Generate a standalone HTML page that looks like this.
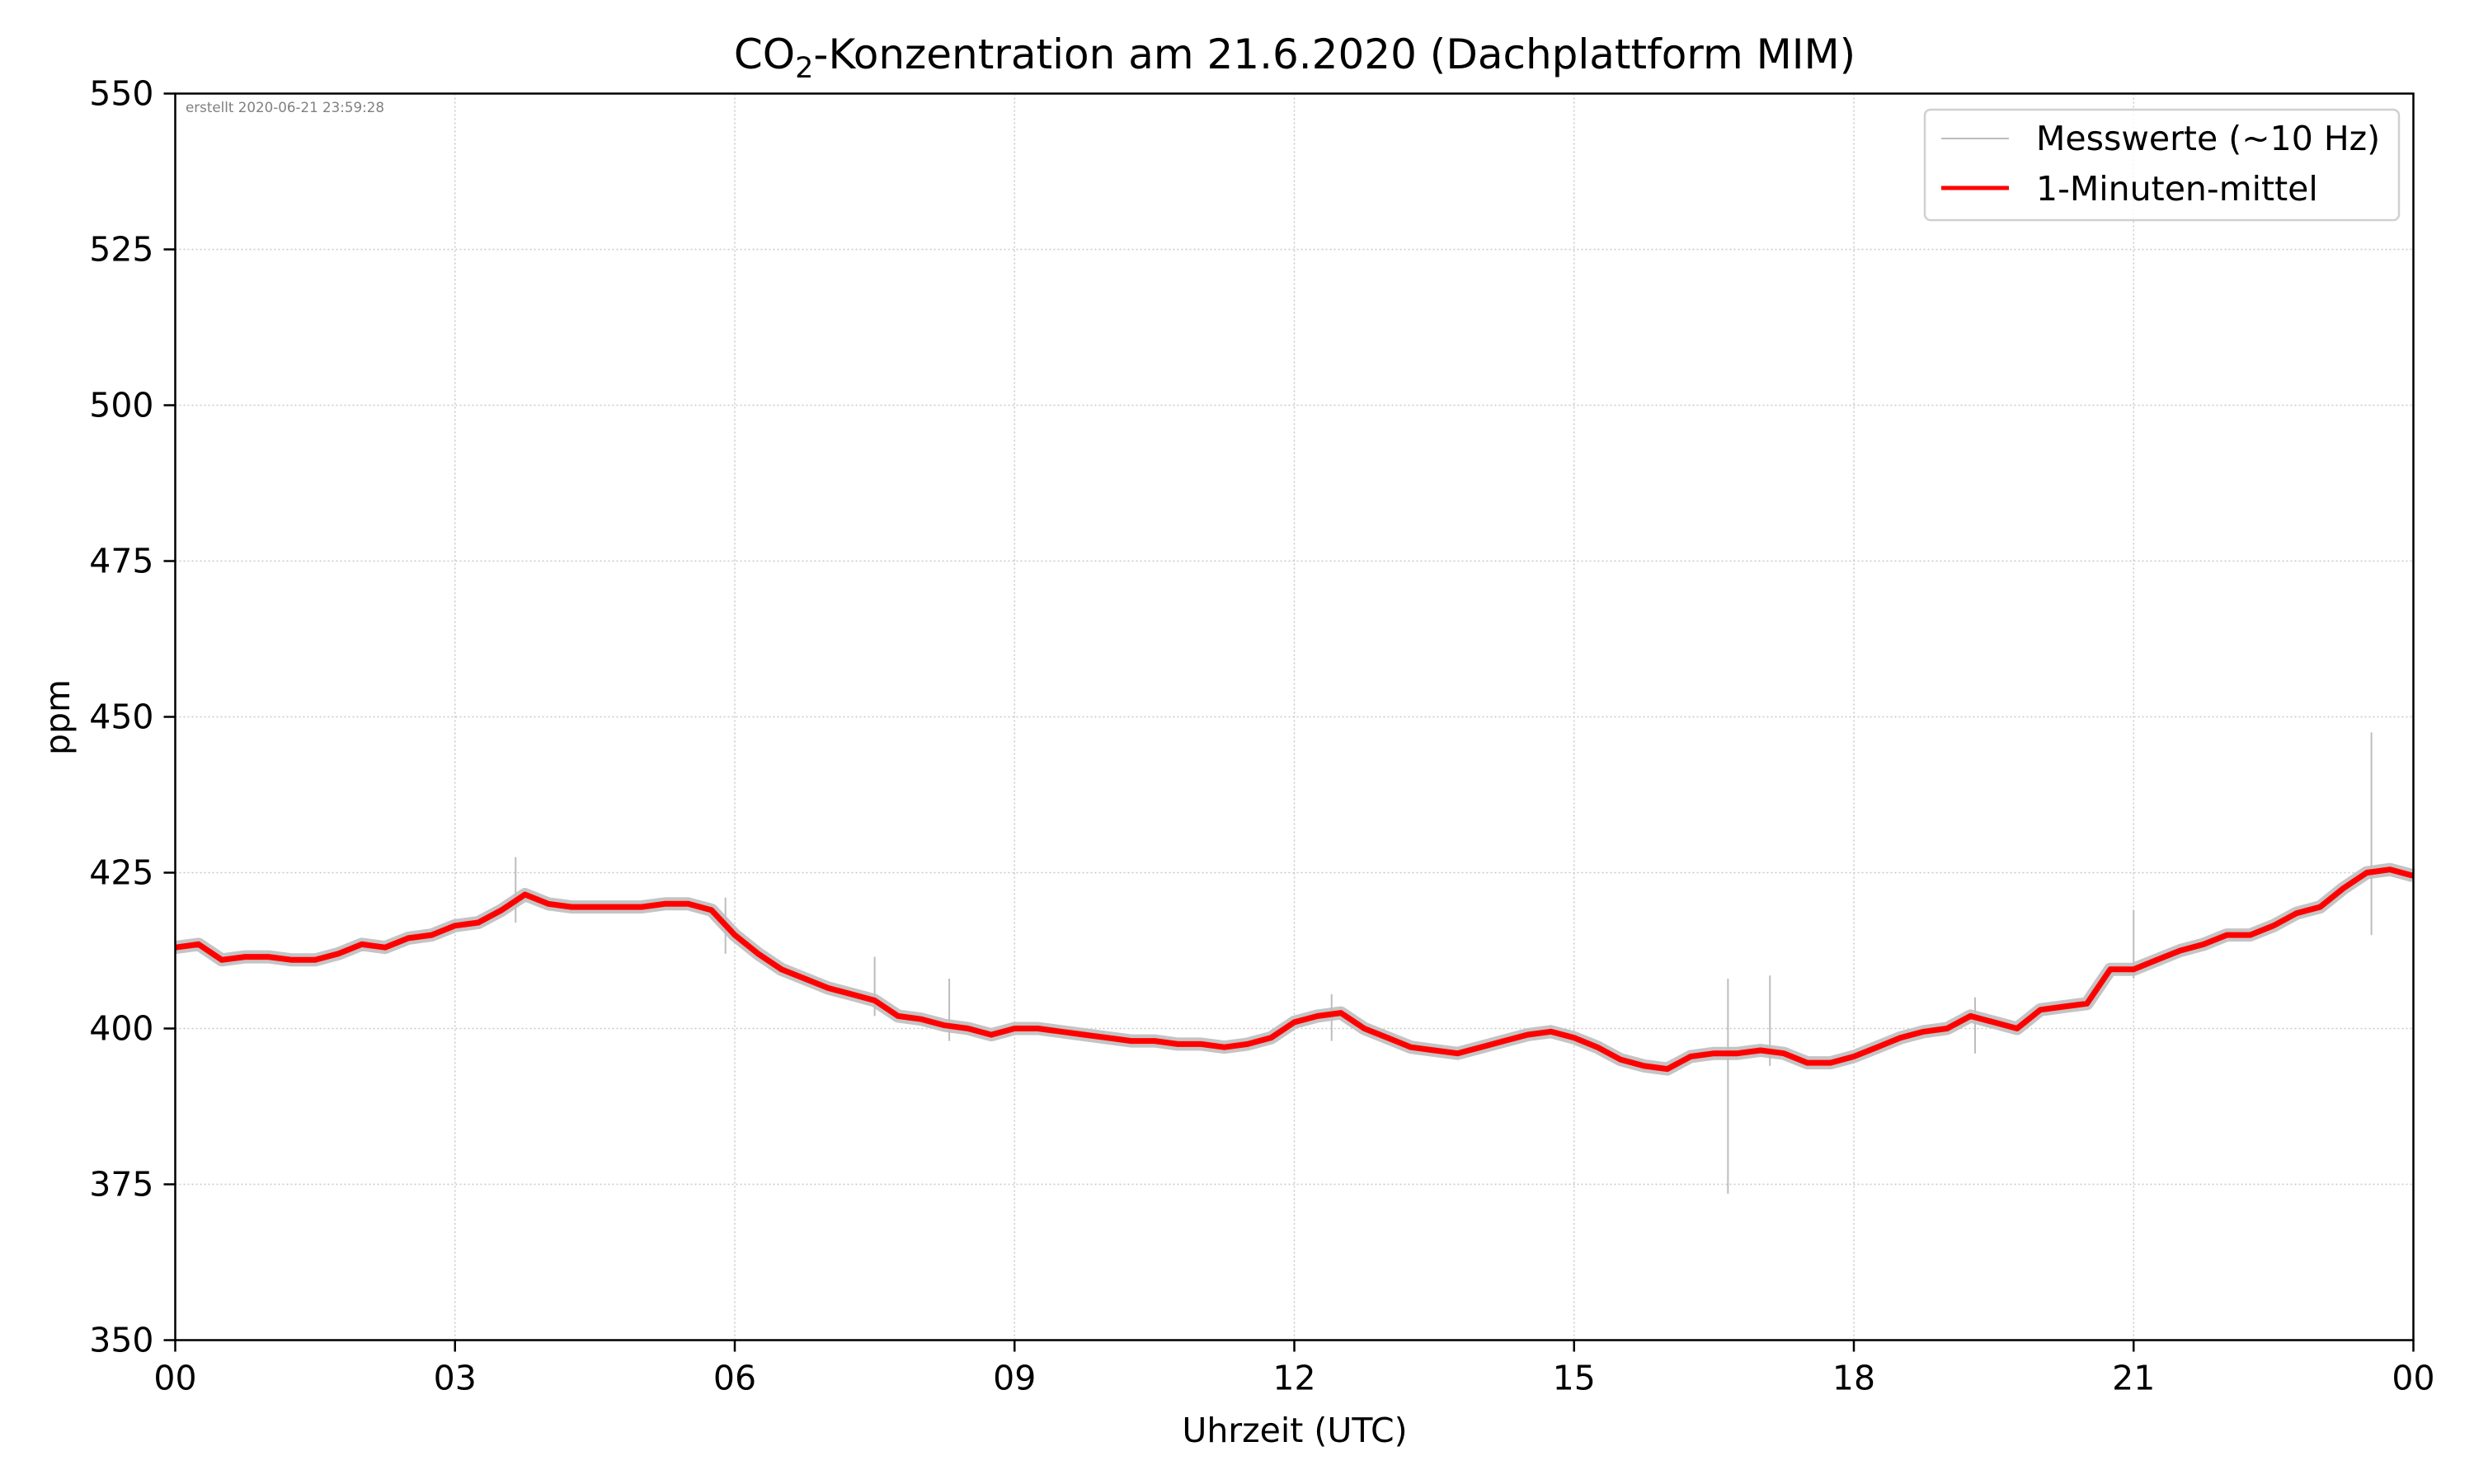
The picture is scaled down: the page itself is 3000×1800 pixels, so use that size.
<!DOCTYPE html>
<html><head><meta charset="utf-8">
<style>
html,body{margin:0;padding:0;background:#fff;}
svg{display:block;font-family:"DejaVu Sans","Liberation Sans",sans-serif;}
</style></head>
<body>
<svg id="chart" width="3000" height="1800" viewBox="0 0 3000 1800" xmlns="http://www.w3.org/2000/svg">
<rect width="3000" height="1800" fill="#fff"/>
<g id="grid"></g>
<g id="series"></g>
<rect x="212.5" y="113.5" width="2714" height="1512" fill="none" stroke="#000" stroke-width="2.5"/>
<g id="ticks" font-size="41"></g>
<text x="225" y="136" font-size="16.7" fill="#808080">erstellt 2020-06-21 23:59:28</text>
<text x="1570" y="83" font-size="50" text-anchor="middle">CO<tspan font-size="35" dy="11">2</tspan><tspan dy="-11">-Konzentration am 21.6.2020 (Dachplattform MIM)</tspan></text>
<text x="1570" y="1749" font-size="41" text-anchor="middle">Uhrzeit (UTC)</text>
<text transform="translate(84,870) rotate(-90)" font-size="41" text-anchor="middle">ppm</text>
<g>
<rect x="2334" y="133" width="575" height="134" rx="7" fill="#fff" fill-opacity="0.8" stroke="#d0d0d0" stroke-width="2.5"/>
<line x1="2354" y1="168" x2="2436" y2="168" stroke="#bdbdbd" stroke-width="2"/>
<text x="2469" y="182" font-size="41">Messwerte (~10 Hz)</text>
<line x1="2354" y1="228" x2="2436" y2="228" stroke="#ff0000" stroke-width="5"/>
<text x="2469" y="243" font-size="41">1-Minuten-mittel</text>
</g>
</svg>
<script>
// 15-minute samples of the 1-minute mean (ppm), 00:00 .. 24:00
const meanValues = [413,413.5,411,411.5,411.5,411,411,412,413.5,413,414.5,415,416.5,417,419,421.5,
420,419.5,419.5,419.5,419.5,420,420,419,415,412,409.5,408,406.5,405.5,404.5,402,
401.5,400.5,400,399,400,400,399.5,399,398.5,398,398,397.5,397.5,397,397.5,398.5,
401,402,402.5,400,398.5,397,396.5,396,397,398,399,399.5,398.5,397,395,394,
393.5,395.5,396,396,396.5,396,394.5,394.5,395.5,397,398.5,399.5,400,402,401,400,
403,403.5,404,409.5,409.5,411,412.5,413.5,415,415,416.5,418.5,419.5,422.5,425,425.5,424.5];
// isolated raw-data spikes: hour, min, max
const spikeHours = [16.65,23.55,7.5,3.65,17.1,21.0,12.4,8.3,19.3,5.9];
const spikeMin = [373.5,415,402,417,394,408,398,398,396,412];
const spikeMax = [408,447.5,411.5,427.5,408.5,419,405.5,408,405,421];
const xTicks = ["00","03","06","09","12","15","18","21","00"];
const yTicks = [350,375,400,425,450,475,500,525,550];

const X0=212.5, X1=2926.5, Y0=1625.5, Y1=113.5;
const xs = h => X0 + (h/24)*(X1-X0);
const ys = v => Y0 - (v-350)/200*(Y0-Y1);
const NS="http://www.w3.org/2000/svg";
const grid=document.getElementById('grid'), ticks=document.getElementById('ticks'), series=document.getElementById('series');
function mk(tag, attrs, parent){const e=document.createElementNS(NS,tag);for(const k in attrs)e.setAttribute(k,attrs[k]);parent.appendChild(e);return e;}

xTicks.forEach((t,i)=>{
  const x=xs(i*3);
  const g=mk('line',{x1:x,y1:Y1,x2:x,y2:Y0,stroke:'#c8c8c8','stroke-width':1.5,'stroke-dasharray':'2,3'},grid);
  
  
  const tk=mk('line',{x1:x,y1:Y0,x2:x,y2:Y0+14,stroke:'#000','stroke-width':2.5},ticks);
  
  
  const tx=mk('text',{x:x,y:Y0+60,'text-anchor':'middle'},ticks);
  tx.textContent=t;
  
  
});
yTicks.forEach(v=>{
  const y=ys(v);
  const g=mk('line',{x1:X0,y1:y,x2:X1,y2:y,stroke:'#c8c8c8','stroke-width':1.5,'stroke-dasharray':'2,3'},grid);
  
  
  const tk=mk('line',{x1:X0-14,y1:y,x2:X0,y2:y,stroke:'#000','stroke-width':2.5},ticks);
  
  
  const tx=mk('text',{x:X0-26,y:y+14,'text-anchor':'end'},ticks);
  tx.textContent=v;
  
  
});

const pts = meanValues.map((v,i)=>xs(i*0.25).toFixed(1)+','+ys(v).toFixed(1)).join(' ');
const raw=mk('polyline',{points:pts,fill:'none',stroke:'#c4c4c4','stroke-width':16,'stroke-linejoin':'round'},series);


spikeHours.forEach((h,i)=>{
  const s=mk('line',{x1:xs(h),y1:ys(spikeMin[i]),x2:xs(h),y2:ys(spikeMax[i]),stroke:'#bdbdbd','stroke-width':2},series);
  
  
});
const mean=mk('polyline',{points:pts,fill:'none',stroke:'#ff0000','stroke-width':7,'stroke-linejoin':'round'},series);


</script>
</body></html>
